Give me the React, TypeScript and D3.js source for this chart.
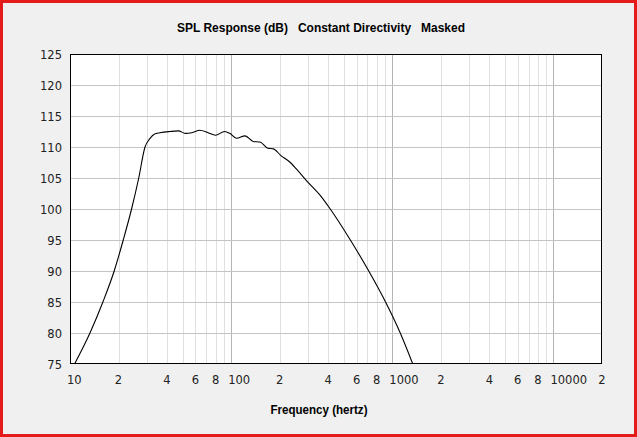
import React from "react";
import * as d3 from "d3";

const freqs = [10.67, 13.3, 16.0, 18.8, 21.4, 24.1, 26.7, 29.2, 31.2, 33.5, 36.2, 41.7, 47, 52, 57, 64, 72, 80, 91, 98, 108, 122, 137, 151, 169, 183, 202, 233, 257, 295, 357, 412, 549, 714, 908, 1120, 1340];
const spl = [75, 80, 85, 90, 95, 100, 105, 110, 111.3, 112.1, 112.3, 112.5, 112.6, 112.2, 112.3, 112.7, 112.3, 111.9, 112.5, 112.2, 111.4, 111.8, 110.9, 110.8, 109.8, 109.7, 108.7, 107.5, 106.3, 104.5, 102.2, 100, 95, 90, 85, 80, 75];
const yTicks = [75, 80, 85, 90, 95, 100, 105, 110, 115, 120, 125];
const xLabelVals = [10, 20, 40, 60, 80, 100, 200, 400, 600, 800, 1000, 2000, 4000, 6000, 8000, 10000, 20000];
const xLabelText = ["10", "2", "4", "6", "8", "100", "2", "4", "6", "8", "1000", "2", "4", "6", "8", "10000", "2"];
const title = "SPL Response (dB)   Constant Directivity   Masked";
const xTitle = "Frequency (hertz)";

export default function App() {
  const W = 637, H = 437;
  const L = 70, R = 602, T = 54, B = 364;
  const x = d3.scaleLog().domain([10, 20000]).range([L, R]);
  const y = d3.scaleLinear().domain([75, 125]).range([B, T]);
  const minor: number[] = [];
  for (let dec = 10; dec <= 10000; dec *= 10) {
    for (let m = 1; m <= 9; m++) {
      const v = dec * m;
      if (v > 10 && v < 20000) minor.push(v);
    }
  }
  const pts = freqs.map((f, i) => [f, spl[i]] as [number, number]);
  const line = d3.line<[number, number]>().x(d => x(d[0])).y(d => y(d[1])).curve(d3.curveMonotoneX);
  const tickFont = "'DejaVu Sans', Verdana, sans-serif";
  const boldFont = "'Liberation Sans Narrow', 'Liberation Sans', Arial, sans-serif";
  return (
    <svg width={W} height={H} style={{ position: "absolute", left: 0, top: 0 }}>
      <defs>
        <clipPath id="plotclip">
          <rect x={L} y={T} width={R - L} height={B - T} />
        </clipPath>
      </defs>
      <rect x={0} y={0} width={W} height={H} fill="#f0f0f0" />
      <rect x={1.5} y={1.5} width={W - 3} height={H - 3} fill="none" stroke="#e31b1b" strokeWidth={3} />
      <text x={321} y={32} textAnchor="middle" fontFamily={boldFont} fontWeight="bold" fontSize={12.5} fill="#000" textLength={288} lengthAdjust="spacingAndGlyphs" style={{ whiteSpace: "pre" }}>{title}</text>
      <rect x={L} y={T} width={R - L} height={B - T} fill="#fff" />
      {minor.map((v, i) => {
        const major = Math.abs(Math.log10(v) - Math.round(Math.log10(v))) < 1e-9;
        const xx = Math.round(x(v)) + 0.5;
        return <line key={"v" + i} x1={xx} x2={xx} y1={T} y2={B} stroke={major ? "#b4b4b4" : "#e0e0e0"} strokeWidth={1} />;
      })}
      {yTicks.slice(1, -1).map((t, i) => {
        const yy = Math.round(y(t)) + 0.5;
        return <line key={"h" + i} x1={L} x2={R} y1={yy} y2={yy} stroke="#c4c4c4" strokeWidth={1} />;
      })}
      <path d={line(pts) || ""} fill="none" stroke="#000" strokeWidth={1.1} clipPath="url(#plotclip)" />
      <rect x={L + 0.5} y={T + 0.5} width={R - L - 1} height={B - T - 1} fill="none" stroke="#000" strokeWidth={1} />
      {yTicks.map((t, i) => (
        <text key={"yl" + i} x={62} y={y(t) + 4.5} textAnchor="end" fontFamily={tickFont} fontSize={11.5} fill="#222">{t}</text>
      ))}
      {xLabelVals.map((v, i) => {
        const isDec = xLabelText[i].length > 1;
        return (
          <text key={"xl" + i} x={isDec ? x(v) - 3 : x(v)} y={384} textAnchor={isDec ? "start" : "middle"} fontFamily={tickFont} fontSize={11.5} fill="#222">{xLabelText[i]}</text>
        );
      })}
      <text x={319} y={414} textAnchor="middle" fontFamily={boldFont} fontWeight="bold" fontSize={12.5} fill="#000" textLength={97} lengthAdjust="spacingAndGlyphs">{xTitle}</text>
    </svg>
  );
}
